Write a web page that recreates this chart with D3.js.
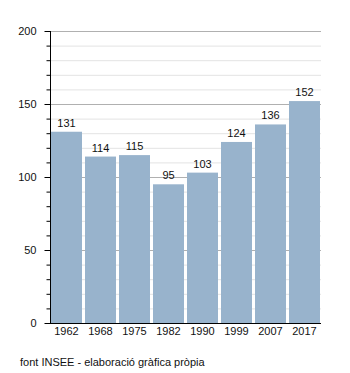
<!DOCTYPE html>
<html><head><meta charset="utf-8">
<script src="https://cdn.jsdelivr.net/npm/d3@7"></script>
<style>body{margin:0;background:#fff}svg{display:block}text{font-family:"Liberation Sans",Arial,sans-serif}</style>
</head><body>
<svg id="c" width="350" height="373"></svg>
<script>
const years = ["1962","1968","1975","1982","1990","1999","2007","2017"];
const values = [131,114,115,95,103,124,136,152];
const yTicks = [0,50,100,150,200];
const source = "font INSEE - elaboració gràfica pròpia";

const svg = d3.select("#c");
const L=50, R=321, T=31, B=323;
const x = d3.scaleBand().domain(years).range([51,320]).paddingInner(3/34).paddingOuter(0);
const y = d3.scaleLinear().domain([0,200]).range([B,T]);

const minor = d3.range(0,201,10).filter(v=>v%50!==0);
svg.append("g").selectAll("line").data(minor).join("line")
  .attr("x1",L).attr("x2",R).attr("y1",d=>y(d)+0.5).attr("y2",d=>y(d)+0.5)
  .attr("stroke","#e3e3e3").attr("stroke-width",1);
svg.append("g").selectAll("line").data(yTicks.filter(v=>v>0)).join("line")
  .attr("x1",L).attr("x2",R).attr("y1",d=>y(d)+0.5).attr("y2",d=>y(d)+0.5)
  .attr("stroke","#b0b0b0").attr("stroke-width",1);

svg.append("g").selectAll("rect").data(values).join("rect")
  .attr("x",(d,i)=>x(years[i])).attr("width",x.bandwidth())
  .attr("y",d=>y(d)).attr("height",d=>B-y(d)).attr("fill","#98b3cc");

svg.append("g").selectAll("text").data(values).join("text")
  .attr("x",(d,i)=>x(years[i])+x.bandwidth()/2).attr("y",d=>y(d)-5)
  .attr("text-anchor","middle").attr("font-size",11).attr("fill","#111").text(d=>d);

// y axis
const ya = svg.append("g").attr("transform",`translate(${L+0.5},0)`);
ya.append("line").attr("x1",0).attr("x2",0).attr("y1",T).attr("y2",B+0.5).attr("stroke","#000");
ya.selectAll(".mt").data(d3.range(0,201,10)).join("line")
  .attr("x1",d=>d%50===0?-6:-4).attr("x2",0).attr("y1",d=>y(d)+0.5).attr("y2",d=>y(d)+0.5).attr("stroke","#000");
ya.selectAll("text").data(yTicks).join("text")
  .attr("x",-14).attr("y",d=>y(d)+4).attr("text-anchor","end").attr("font-size",11).attr("fill","#111").text(d=>d);

// x axis
svg.append("line").attr("x1",L).attr("x2",R).attr("y1",B+0.5).attr("y2",B+0.5).attr("stroke","#000");
svg.append("g").selectAll("text").data(years).join("text")
  .attr("x",d=>x(d)+x.bandwidth()/2).attr("y",B+12).attr("text-anchor","middle")
  .attr("font-size",11).attr("fill","#111").text(d=>d);

svg.append("text").attr("x",20).attr("y",366).attr("font-size",11).attr("fill","#111").text(source);
</script>
</body></html>
